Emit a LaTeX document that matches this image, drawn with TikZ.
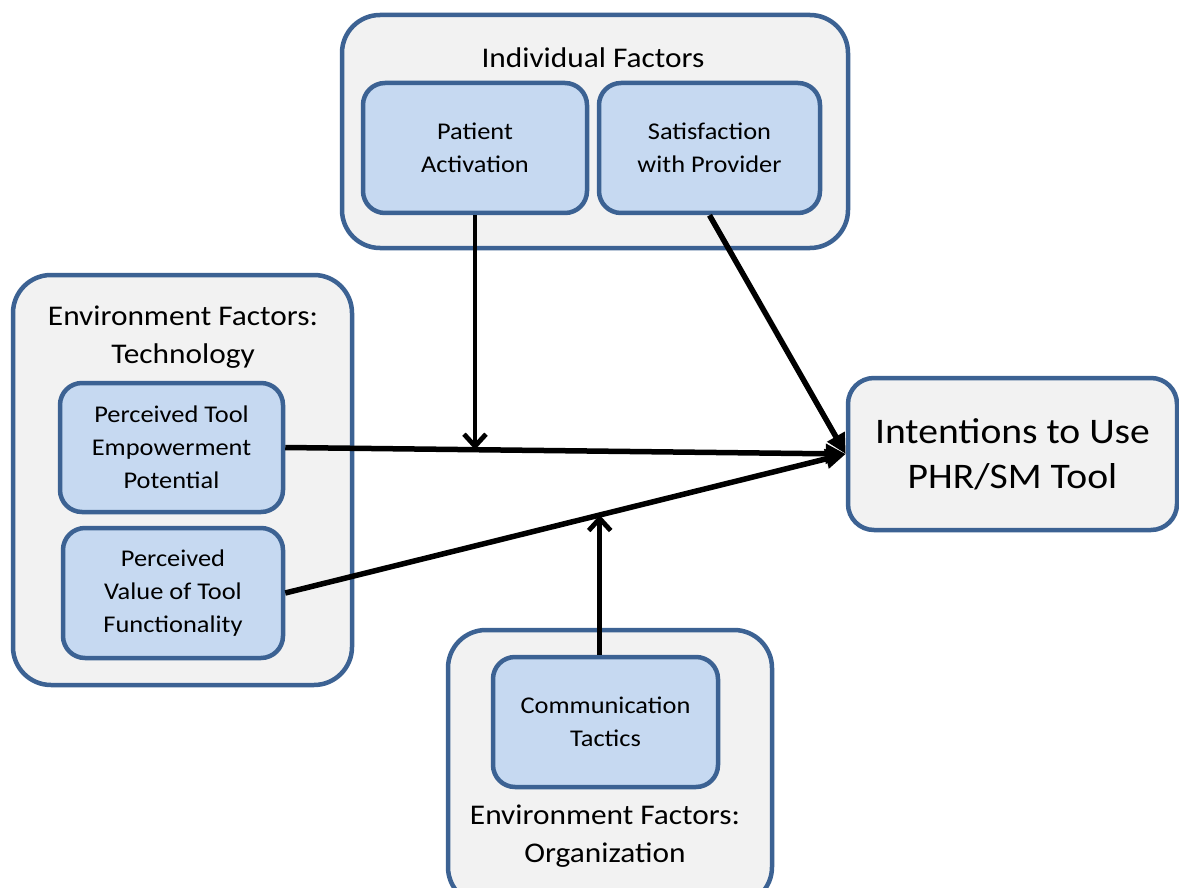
\documentclass[tikz,border=0pt]{standalone}
\usepackage{fontspec}
\setmainfont{Carlito}[FakeStretch=1.1]
\usetikzlibrary{arrows.meta,calc}
\definecolor{edgeblue}{HTML}{3C6293}
\definecolor{outerfill}{HTML}{F2F2F2}
\definecolor{innerfill}{HTML}{C6D9F1}
\tikzset{
  outerbox/.style={draw=edgeblue, fill=outerfill, line width=4.5pt, rounded corners=38pt, inner sep=0pt},
  innerbox/.style={draw=edgeblue, fill=innerfill, line width=4.5pt, rounded corners=22pt, align=center, inner sep=0pt, font=\fontsize{24}{33}\selectfont},
  targetbox/.style={draw=edgeblue, fill=outerfill, line width=4.5pt, rounded corners=26pt, align=center, inner sep=0pt, font=\fontsize{36}{45}\selectfont},
  titletext/.style={align=center, font=\fontsize{28.5}{38}\selectfont, inner sep=0pt},
  mainarrow/.style={line width=5.5pt, -{Triangle[length=20pt,width=19pt]}},
  modarrow/.style={line width=4.8pt, -{Straight Barb[length=12pt,width=22pt]}},
}
\begin{document}
\begin{tikzpicture}[x=1pt,y=-1pt]
\clip (0,0) rectangle (1179,888);
\fill[white] (0,0) rectangle (1179,888);
% outer groups
\node[outerbox, minimum width=506pt, minimum height=233pt] (indf) at (595,131.5) {};
\node[outerbox, minimum width=339pt, minimum height=410pt] (envtech) at (182.5,480) {};
\node[outerbox, minimum width=324pt, minimum height=275pt] (envorg) at (610,767.5) {};
% titles
\node[titletext] (indt) at (593,58) {Individual Factors};
\node[titletext] (envtt) at (183,337.5) {Environment Factors:\\Technology};
\node[titletext] (envot) at (605,836.5) {Environment Factors:\\Organization};
% inner boxes
\node[innerbox, minimum width=224pt, minimum height=130pt] (pa) at (475,148) {Patient\\Activation};
\node[innerbox, minimum width=221pt, minimum height=130pt] (sat) at (709.5,148) {Satisfaction\\with Provider};
\node[innerbox, minimum width=223pt, minimum height=129pt] (pt) at (171.5,447.5) {Perceived Tool\\Empowerment\\Potential};
\node[innerbox, minimum width=220pt, minimum height=130pt] (pv) at (173,593) {Perceived\\Value of Tool\\Functionality};
\node[innerbox, minimum width=225pt, minimum height=130pt] (comm) at (605.5,722) {Communication\\Tactics};
% target
\node[targetbox, minimum width=329pt, minimum height=152pt] (int) at (1012.5,454) {Intentions to Use\\PHR/SM Tool};
% moderation points
\path (pt.east) -- (int.west) coordinate[pos=0.339] (m1);
\path (pv.east) -- (int.west) coordinate[pos=0.561] (m2);
% connectors
\draw[mainarrow] (pt.east) -- (int.west);
\draw[mainarrow] (pv.east) -- (int.west);
\draw[mainarrow] (sat.south) -- (int.west);
\draw[modarrow] (pa.south) -- (pa.south |- m1);
\draw[modarrow] (m2 |- comm.north) -- (m2);
\end{tikzpicture}
\end{document}
